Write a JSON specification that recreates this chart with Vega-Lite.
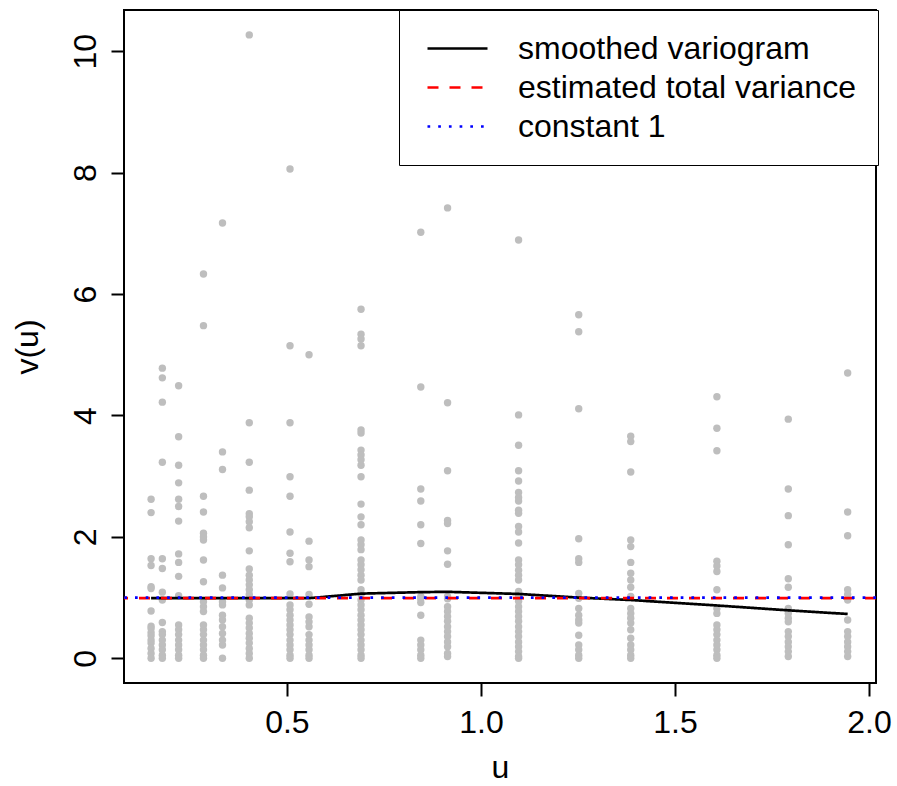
{
  "$schema": "https://vega.github.io/schema/vega-lite/v6.json",
  "width": 752,
  "height": 673,
  "autosize": {"type": "none"},
  "padding": {"left": 124, "top": 10, "right": 21, "bottom": 103},
  "background": "white",
  "config": {
    "view": {"stroke": "black", "strokeWidth": 2},
    "font": "Liberation Sans",
    "axis": {
      "grid": false, "domain": false, "tickColor": "black", "tickWidth": 2, "tickSize": 13,
      "labelFont": "Liberation Sans", "labelFontSize": 32, "labelColor": "black",
      "titleFont": "Liberation Sans", "titleFontSize": 32, "titleFontWeight": "normal", "titleColor": "black"
    },
    "legend": {
      "orient": "none", "legendX": 275, "legendY": 0,
      "symbolType": "M-2,0H2", "symbolSize": 900, "symbolStrokeWidth": 2.7, "symbolOffset": 20,
      "labelFont": "Liberation Sans", "labelFontSize": 32, "labelColor": "black",
      "strokeColor": "black", "fillColor": "white", "padding": 22, "labelOffset": 44, "rowPadding": 6,
      "labelLimit": 600
    }
  },
  "datasets": {
    "pts": [
      {"u":0.150,"v":2.62},{"u":0.150,"v":2.40},{"u":0.150,"v":1.64},{"u":0.150,"v":1.53},{"u":0.150,"v":1.18},{"u":0.150,"v":1.15},{"u":0.150,"v":0.78},{"u":0.150,"v":0.53},{"u":0.150,"v":0.49},{"u":0.150,"v":0.42},{"u":0.150,"v":0.37},{"u":0.150,"v":0.30},{"u":0.150,"v":0.25},{"u":0.150,"v":0.16},{"u":0.150,"v":0.08},{"u":0.150,"v":0.0},
      {"u":0.179,"v":4.78},{"u":0.179,"v":4.62},{"u":0.179,"v":4.22},{"u":0.179,"v":3.23},{"u":0.179,"v":1.64},{"u":0.179,"v":1.48},{"u":0.179,"v":1.09},{"u":0.179,"v":0.96},{"u":0.179,"v":0.59},{"u":0.179,"v":0.44},{"u":0.179,"v":0.39},{"u":0.179,"v":0.30},{"u":0.179,"v":0.22},{"u":0.179,"v":0.14},{"u":0.179,"v":0.05},{"u":0.179,"v":0.0},
      {"u":0.221,"v":4.49},{"u":0.221,"v":3.65},{"u":0.221,"v":3.18},{"u":0.221,"v":2.89},{"u":0.221,"v":2.62},{"u":0.221,"v":2.50},{"u":0.221,"v":2.26},{"u":0.221,"v":1.72},{"u":0.221,"v":1.58},{"u":0.221,"v":1.35},{"u":0.221,"v":1.03},{"u":0.221,"v":0.55},{"u":0.221,"v":0.47},{"u":0.221,"v":0.39},{"u":0.221,"v":0.30},{"u":0.221,"v":0.22},{"u":0.221,"v":0.14},{"u":0.221,"v":0.05},{"u":0.221,"v":0.0},
      {"u":0.285,"v":6.33},{"u":0.285,"v":5.48},{"u":0.285,"v":2.67},{"u":0.285,"v":2.41},{"u":0.285,"v":2.06},{"u":0.285,"v":2.00},{"u":0.285,"v":1.95},{"u":0.285,"v":1.62},{"u":0.285,"v":1.26},{"u":0.285,"v":0.93},{"u":0.285,"v":0.85},{"u":0.285,"v":0.77},{"u":0.285,"v":0.55},{"u":0.285,"v":0.47},{"u":0.285,"v":0.39},{"u":0.285,"v":0.30},{"u":0.285,"v":0.22},{"u":0.285,"v":0.14},{"u":0.285,"v":0.05},{"u":0.285,"v":0.0},
      {"u":0.334,"v":7.17},{"u":0.334,"v":3.40},{"u":0.334,"v":3.11},{"u":0.334,"v":1.37},{"u":0.334,"v":1.16},{"u":0.334,"v":0.93},{"u":0.334,"v":0.88},{"u":0.334,"v":0.71},{"u":0.334,"v":0.63},{"u":0.334,"v":0.52},{"u":0.334,"v":0.41},{"u":0.334,"v":0.30},{"u":0.334,"v":0.22},{"u":0.334,"v":0.0},
      {"u":0.403,"v":10.27},{"u":0.403,"v":3.88},{"u":0.403,"v":3.23},{"u":0.403,"v":2.77},{"u":0.403,"v":2.38},{"u":0.403,"v":2.33},{"u":0.403,"v":2.25},{"u":0.403,"v":2.15},{"u":0.403,"v":1.77},{"u":0.403,"v":1.47},{"u":0.403,"v":1.37},{"u":0.403,"v":1.29},{"u":0.403,"v":1.21},{"u":0.403,"v":1.13},{"u":0.403,"v":1.05},{"u":0.403,"v":0.96},{"u":0.403,"v":0.88},{"u":0.403,"v":0.66},{"u":0.403,"v":0.58},{"u":0.403,"v":0.50},{"u":0.403,"v":0.41},{"u":0.403,"v":0.33},{"u":0.403,"v":0.25},{"u":0.403,"v":0.16},{"u":0.403,"v":0.08},{"u":0.403,"v":0.0},
      {"u":0.508,"v":8.06},{"u":0.508,"v":5.15},{"u":0.508,"v":3.88},{"u":0.508,"v":2.99},{"u":0.508,"v":2.67},{"u":0.508,"v":2.08},{"u":0.508,"v":1.73},{"u":0.508,"v":1.59},{"u":0.508,"v":1.06},{"u":0.508,"v":0.88},{"u":0.508,"v":0.80},{"u":0.508,"v":0.71},{"u":0.508,"v":0.63},{"u":0.508,"v":0.55},{"u":0.508,"v":0.47},{"u":0.508,"v":0.39},{"u":0.508,"v":0.30},{"u":0.508,"v":0.22},{"u":0.508,"v":0.14},{"u":0.508,"v":0.05},{"u":0.508,"v":0.0},
      {"u":0.557,"v":5.00},{"u":0.557,"v":1.93},{"u":0.557,"v":1.62},{"u":0.557,"v":1.51},{"u":0.557,"v":1.05},{"u":0.557,"v":0.89},{"u":0.557,"v":0.68},{"u":0.557,"v":0.60},{"u":0.557,"v":0.52},{"u":0.557,"v":0.39},{"u":0.557,"v":0.30},{"u":0.557,"v":0.22},{"u":0.557,"v":0.14},{"u":0.557,"v":0.05},{"u":0.557,"v":0.0},
      {"u":0.691,"v":5.75},{"u":0.691,"v":5.34},{"u":0.691,"v":5.26},{"u":0.691,"v":5.15},{"u":0.691,"v":3.76},{"u":0.691,"v":3.71},{"u":0.691,"v":3.43},{"u":0.691,"v":3.35},{"u":0.691,"v":3.27},{"u":0.691,"v":3.18},{"u":0.691,"v":2.99},{"u":0.691,"v":2.54},{"u":0.691,"v":2.33},{"u":0.691,"v":2.20},{"u":0.691,"v":1.95},{"u":0.691,"v":1.87},{"u":0.691,"v":1.79},{"u":0.691,"v":1.62},{"u":0.691,"v":1.54},{"u":0.691,"v":1.46},{"u":0.691,"v":1.37},{"u":0.691,"v":1.29},{"u":0.691,"v":1.13},{"u":0.691,"v":1.05},{"u":0.691,"v":0.96},{"u":0.691,"v":0.88},{"u":0.691,"v":0.80},{"u":0.691,"v":0.71},{"u":0.691,"v":0.63},{"u":0.691,"v":0.55},{"u":0.691,"v":0.47},{"u":0.691,"v":0.39},{"u":0.691,"v":0.30},{"u":0.691,"v":0.22},{"u":0.691,"v":0.14},{"u":0.691,"v":0.05},{"u":0.691,"v":0.0},
      {"u":0.845,"v":7.02},{"u":0.845,"v":4.47},{"u":0.845,"v":2.79},{"u":0.845,"v":2.59},{"u":0.845,"v":2.20},{"u":0.845,"v":1.89},{"u":0.845,"v":1.02},{"u":0.845,"v":0.98},{"u":0.845,"v":0.92},{"u":0.845,"v":0.71},{"u":0.845,"v":0.30},{"u":0.845,"v":0.22},{"u":0.845,"v":0.14},{"u":0.845,"v":0.05},{"u":0.845,"v":0.0},
      {"u":0.914,"v":7.42},{"u":0.914,"v":4.21},{"u":0.914,"v":3.09},{"u":0.914,"v":2.27},{"u":0.914,"v":2.22},{"u":0.914,"v":1.77},{"u":0.914,"v":1.55},{"u":0.914,"v":1.02},{"u":0.914,"v":0.98},{"u":0.914,"v":0.85},{"u":0.914,"v":0.77},{"u":0.914,"v":0.69},{"u":0.914,"v":0.61},{"u":0.914,"v":0.52},{"u":0.914,"v":0.44},{"u":0.914,"v":0.36},{"u":0.914,"v":0.27},{"u":0.914,"v":0.19},{"u":0.914,"v":0.08},{"u":0.914,"v":0.03},
      {"u":1.097,"v":6.89},{"u":1.097,"v":4.01},{"u":1.097,"v":3.51},{"u":1.097,"v":3.09},{"u":1.097,"v":2.92},{"u":1.097,"v":2.73},{"u":1.097,"v":2.65},{"u":1.097,"v":2.59},{"u":1.097,"v":2.44},{"u":1.097,"v":2.39},{"u":1.097,"v":2.17},{"u":1.097,"v":2.08},{"u":1.097,"v":1.90},{"u":1.097,"v":1.62},{"u":1.097,"v":1.54},{"u":1.097,"v":1.45},{"u":1.097,"v":1.37},{"u":1.097,"v":1.29},{"u":1.097,"v":1.10},{"u":1.097,"v":1.02},{"u":1.097,"v":0.94},{"u":1.097,"v":0.85},{"u":1.097,"v":0.77},{"u":1.097,"v":0.69},{"u":1.097,"v":0.61},{"u":1.097,"v":0.52},{"u":1.097,"v":0.44},{"u":1.097,"v":0.36},{"u":1.097,"v":0.27},{"u":1.097,"v":0.19},{"u":1.097,"v":0.11},{"u":1.097,"v":0.03},{"u":1.097,"v":0.0},
      {"u":1.252,"v":5.66},{"u":1.252,"v":5.38},{"u":1.252,"v":4.11},{"u":1.252,"v":1.97},{"u":1.252,"v":1.64},{"u":1.252,"v":1.58},{"u":1.252,"v":1.07},{"u":1.252,"v":0.99},{"u":1.252,"v":0.82},{"u":1.252,"v":0.71},{"u":1.252,"v":0.63},{"u":1.252,"v":0.58},{"u":1.252,"v":0.38},{"u":1.252,"v":0.22},{"u":1.252,"v":0.14},{"u":1.252,"v":0.05},{"u":1.252,"v":0.0},
      {"u":1.386,"v":3.66},{"u":1.386,"v":3.57},{"u":1.386,"v":3.07},{"u":1.386,"v":1.95},{"u":1.386,"v":1.84},{"u":1.386,"v":1.58},{"u":1.386,"v":1.40},{"u":1.386,"v":1.29},{"u":1.386,"v":1.17},{"u":1.386,"v":1.02},{"u":1.386,"v":0.82},{"u":1.386,"v":0.74},{"u":1.386,"v":0.66},{"u":1.386,"v":0.58},{"u":1.386,"v":0.47},{"u":1.386,"v":0.33},{"u":1.386,"v":0.22},{"u":1.386,"v":0.14},{"u":1.386,"v":0.05},{"u":1.386,"v":0.0},
      {"u":1.608,"v":4.31},{"u":1.608,"v":3.79},{"u":1.608,"v":3.42},{"u":1.608,"v":1.60},{"u":1.608,"v":1.52},{"u":1.608,"v":1.43},{"u":1.608,"v":1.13},{"u":1.608,"v":0.82},{"u":1.608,"v":0.74},{"u":1.608,"v":0.55},{"u":1.608,"v":0.47},{"u":1.608,"v":0.39},{"u":1.608,"v":0.30},{"u":1.608,"v":0.22},{"u":1.608,"v":0.14},{"u":1.608,"v":0.05},{"u":1.608,"v":0.0},
      {"u":1.792,"v":3.94},{"u":1.792,"v":2.79},{"u":1.792,"v":2.35},{"u":1.792,"v":1.87},{"u":1.792,"v":1.31},{"u":1.792,"v":1.17},{"u":1.792,"v":0.82},{"u":1.792,"v":0.74},{"u":1.792,"v":0.66},{"u":1.792,"v":0.60},{"u":1.792,"v":0.44},{"u":1.792,"v":0.36},{"u":1.792,"v":0.27},{"u":1.792,"v":0.19},{"u":1.792,"v":0.11},{"u":1.792,"v":0.03},
      {"u":1.945,"v":4.70},{"u":1.945,"v":2.41},{"u":1.945,"v":2.02},{"u":1.945,"v":1.13},{"u":1.945,"v":1.05},{"u":1.945,"v":0.96},{"u":1.945,"v":0.63},{"u":1.945,"v":0.44},{"u":1.945,"v":0.36},{"u":1.945,"v":0.27},{"u":1.945,"v":0.19},{"u":1.945,"v":0.11},{"u":1.945,"v":0.03}
    ],
    "smooth": [
      {"series":"smoothed variogram","u":0.150,"v":0.99},
      {"series":"smoothed variogram","u":0.179,"v":0.99},
      {"series":"smoothed variogram","u":0.221,"v":0.99},
      {"series":"smoothed variogram","u":0.285,"v":0.99},
      {"series":"smoothed variogram","u":0.334,"v":0.99},
      {"series":"smoothed variogram","u":0.403,"v":0.99},
      {"series":"smoothed variogram","u":0.508,"v":0.99},
      {"series":"smoothed variogram","u":0.557,"v":0.99},
      {"series":"smoothed variogram","u":0.691,"v":1.065},
      {"series":"smoothed variogram","u":0.845,"v":1.09},
      {"series":"smoothed variogram","u":0.914,"v":1.095},
      {"series":"smoothed variogram","u":1.097,"v":1.06},
      {"series":"smoothed variogram","u":1.252,"v":1.0},
      {"series":"smoothed variogram","u":1.386,"v":0.96},
      {"series":"smoothed variogram","u":1.608,"v":0.87},
      {"series":"smoothed variogram","u":1.792,"v":0.79},
      {"series":"smoothed variogram","u":1.945,"v":0.73}
    ],
    "hlines": [
      {"series":"estimated total variance","v":0.99},
      {"series":"constant 1","v":1.0}
    ]
  },
  "layer": [
    {
      "data": {"name": "pts"},
      "mark": {"type": "circle", "size": 55, "color": "#BEBEBE", "opacity": 1},
      "encoding": {
        "x": {"field": "u", "type": "quantitative", "title": "u",
          "scale": {"domain": [0.0802, 2.018], "nice": false, "zero": false},
          "axis": {"values": [0.5, 1, 1.5, 2], "format": ".1f", "labelPadding": 11, "titlePadding": 14}},
        "y": {"field": "v", "type": "quantitative", "title": "v(u)",
          "scale": {"domain": [-0.407, 10.68], "nice": false, "zero": false},
          "axis": {"values": [0, 2, 4, 6, 8, 10], "format": "d", "labelAngle": -90, "labelAlign": "center", "labelBaseline": "alphabetic", "labelPadding": 16, "titlePadding": 25}}
      }
    },
    {
      "data": {"name": "smooth"},
      "mark": {"type": "line", "strokeWidth": 2.7},
      "encoding": {
        "x": {"field": "u", "type": "quantitative"},
        "y": {"field": "v", "type": "quantitative"},
        "color": {"field": "series", "type": "nominal", "title": null,
          "scale": {"domain": ["smoothed variogram", "estimated total variance", "constant 1"], "range": ["black", "red", "blue"]}},
        "strokeDash": {"field": "series", "type": "nominal", "title": null,
          "scale": {"domain": ["smoothed variogram", "estimated total variance", "constant 1"], "range": [[1, 0], [11, 11], [2.7, 8]]}}
      }
    },
    {
      "data": {"name": "hlines"},
      "mark": {"type": "rule", "strokeWidth": 2.7},
      "encoding": {
        "y": {"field": "v", "type": "quantitative"},
        "color": {"field": "series", "type": "nominal", "title": null},
        "strokeDash": {"field": "series", "type": "nominal", "title": null}
      }
    }
  ]
}
